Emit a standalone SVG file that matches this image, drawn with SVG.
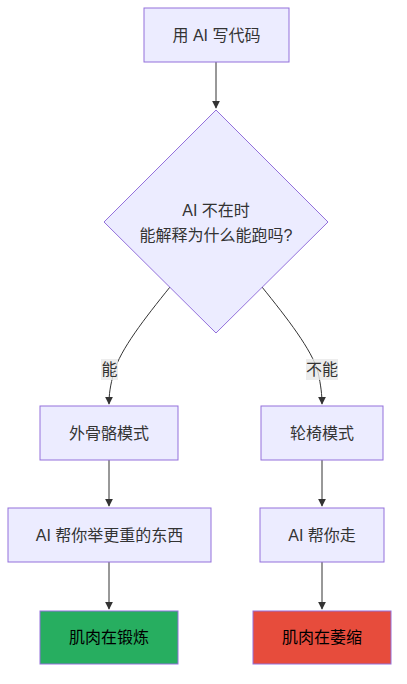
<svg xmlns="http://www.w3.org/2000/svg" width="407" height="684" viewBox="0 0 407 684">
<style>
.n{fill:#ECECFF;stroke:#9370DB;stroke-width:1}
.t{font-family:"Liberation Sans","Noto Sans CJK SC",sans-serif;font-size:16px;fill:#333;text-anchor:middle;dominant-baseline:central}
.e{fill:none;stroke:#333;stroke-width:1}
.lb{fill:#e8e8e8;opacity:0.8}
</style>
<defs>
<marker id="ah" viewBox="0 0 10 10" refX="9" refY="5" markerWidth="8" markerHeight="8" orient="auto-start-reverse">
<path d="M0,0 L10,5 L0,10 z" fill="#333"/>
</marker>
</defs>
<rect width="407" height="684" fill="#fff"/>
<g id="edges">
<path class="e" d="M216,62 L216,108" marker-end="url(#ah)"/>
<path class="e" d="M170,287 C145,318 120,350 114,372 C110,386 109,395 109,404" marker-end="url(#ah)"/>
<path class="e" d="M262,287 C287,318 312,350 318,372 C321,386 322,395 322,404" marker-end="url(#ah)"/>
<path class="e" d="M109,460 L109,506" marker-end="url(#ah)"/>
<path class="e" d="M322,460 L322,506" marker-end="url(#ah)"/>
<path class="e" d="M109,562 L109,609" marker-end="url(#ah)"/>
<path class="e" d="M322,562 L322,609" marker-end="url(#ah)"/>
<rect class="lb" x="101" y="359" width="17" height="21"/>
<text class="t" x="109.5" y="369">能</text>
<rect class="lb" x="306" y="359" width="32" height="21"/>
<text class="t" x="322" y="369">不能</text>
</g>
<g id="n1">
<rect class="n" x="144" y="8" width="145" height="54"/>
<text class="t" x="216.5" y="35">用 AI 写代码</text>
</g>
<g id="n2">
<polygon class="n" points="216,110 328,222 216,333 104,222"/>
<text class="t" x="216" y="210">AI 不在时</text>
<text class="t" x="216" y="235">能解释为什么能跑吗?</text>
</g>
<g id="n3">
<rect class="n" x="40" y="406" width="138" height="54"/>
<text class="t" x="109" y="433">外骨骼模式</text>
</g>
<g id="n4">
<rect class="n" x="261" y="406" width="122" height="54"/>
<text class="t" x="322" y="433">轮椅模式</text>
</g>
<g id="n5">
<rect class="n" x="8" y="508" width="203" height="54"/>
<text class="t" x="109.5" y="535">AI 帮你举更重的东西</text>
</g>
<g id="n6">
<rect class="n" x="260" y="508" width="124" height="54"/>
<text class="t" x="322" y="535">AI 帮你走</text>
</g>
<g id="n7">
<rect x="40" y="611" width="138" height="53" fill="#27AE60" stroke="#9370DB"/>
<text class="t" x="109" y="637.5" style="fill:#000">肌肉在锻炼</text>
</g>
<g id="n8">
<rect x="253" y="611" width="138" height="53" fill="#E74C3C" stroke="#9370DB"/>
<text class="t" x="322" y="637.5" style="fill:#000">肌肉在萎缩</text>
</g>
</svg>
